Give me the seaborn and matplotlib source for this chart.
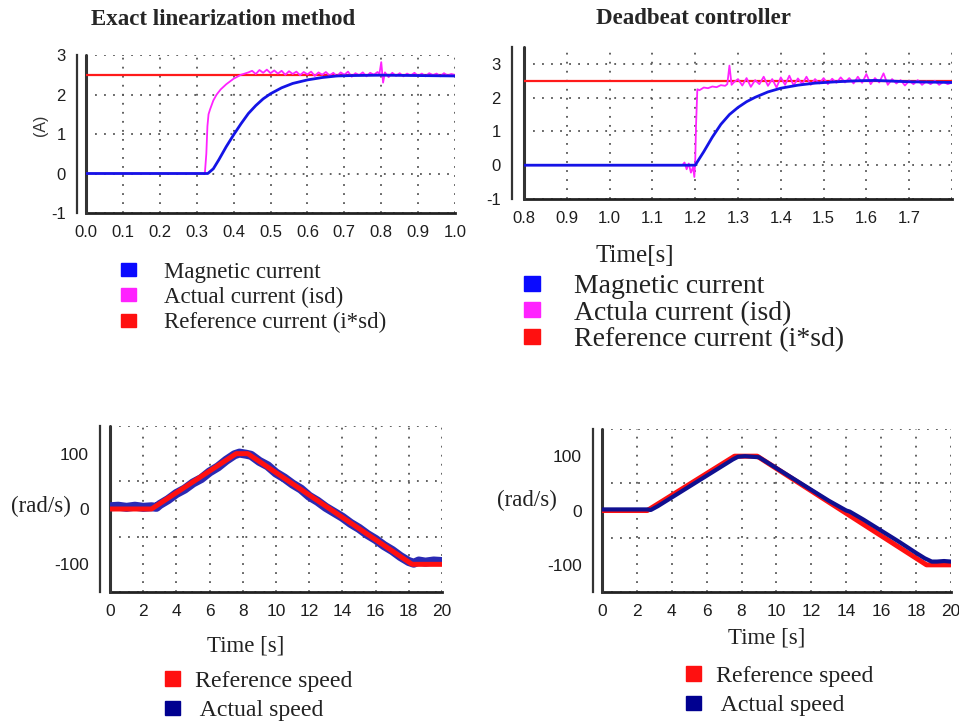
import numpy as np
import pandas as pd
import matplotlib
matplotlib.use("Agg")
from matplotlib import pyplot as plt
from matplotlib.patches import Patch
from matplotlib.ticker import MultipleLocator
import seaborn as sns

# ======================================================================
# Data
# ======================================================================
# --- top left: exact linearization, currents ---
tl_ref_t = [0.0, 1.0]
tl_ref_i = [2.5, 2.5]

tl_mag_t = [0.0, 0.33, 0.345, 0.36, 0.38, 0.40, 0.42, 0.44, 0.46, 0.48, 0.50,
            0.53, 0.56, 0.60, 0.64, 0.68, 0.72, 0.80, 0.90, 1.0]
tl_mag_i = [0.0, 0.0, 0.12, 0.35, 0.68, 0.98, 1.26, 1.52, 1.72, 1.89, 2.02,
            2.17, 2.28, 2.37, 2.43, 2.47, 2.48, 2.49, 2.48, 2.47]

tl_act_t = [0.0, 0.322, 0.326, 0.329, 0.332, 0.336, 0.345, 0.354, 0.365, 0.38,
            0.39, 0.40, 0.41, 0.42, 0.43, 0.44,
            0.45, 0.46, 0.47, 0.48, 0.49, 0.50, 0.51, 0.52, 0.53, 0.54,
            0.55, 0.56, 0.57, 0.58, 0.59, 0.60, 0.61, 0.62, 0.63, 0.64,
            0.65, 0.66, 0.67, 0.68, 0.69, 0.70, 0.71, 0.72, 0.73, 0.74,
            0.75, 0.76, 0.77, 0.78, 0.79, 0.795, 0.80, 0.805, 0.81, 0.82,
            0.83, 0.84, 0.85, 0.86, 0.87, 0.88, 0.89, 0.90, 0.91, 0.92,
            0.93, 0.94, 0.95, 0.96, 0.97, 0.98, 0.99, 1.00]
tl_act_i = [0.0, 0.0, 0.5, 1.2, 1.5, 1.62, 1.85, 2.0, 2.13, 2.26,
            2.33, 2.40, 2.45, 2.50, 2.53, 2.56,
            2.60, 2.52, 2.62, 2.55, 2.63, 2.54, 2.61, 2.53, 2.60, 2.50,
            2.59, 2.52, 2.58, 2.49, 2.57, 2.51, 2.58, 2.47, 2.56, 2.50,
            2.57, 2.48, 2.55, 2.46, 2.56, 2.50, 2.58, 2.45, 2.54, 2.49,
            2.56, 2.46, 2.55, 2.50, 2.57, 2.52, 2.82, 2.30, 2.56, 2.44,
            2.55, 2.47, 2.54, 2.46, 2.53, 2.48, 2.55, 2.47, 2.53, 2.46,
            2.54, 2.49, 2.53, 2.46, 2.54, 2.48, 2.52, 2.49]

# --- top right: deadbeat, currents ---
tr_ref_t = [0.8, 1.8]
tr_ref_i = [2.5, 2.5]

tr_mag_t = [0.8, 1.2, 1.21, 1.22, 1.24, 1.26, 1.28, 1.30, 1.32, 1.34, 1.37,
            1.40, 1.44, 1.48, 1.53, 1.58, 1.62, 1.66, 1.70, 1.75, 1.80]
tr_mag_i = [0.0, 0.0, 0.2, 0.40, 0.83, 1.21, 1.50, 1.71, 1.88, 2.01, 2.17,
            2.28, 2.37, 2.43, 2.47, 2.50, 2.51, 2.49, 2.47, 2.46, 2.45]

tr_act_t = [0.8, 1.17, 1.175, 1.18, 1.185, 1.19, 1.195, 1.198, 1.200, 1.202,
            1.205, 1.21, 1.22, 1.23, 1.24, 1.25, 1.26, 1.27, 1.275, 1.28,
            1.285, 1.29,
            1.30, 1.31, 1.32, 1.33, 1.34, 1.35, 1.36, 1.37, 1.38, 1.39,
            1.40, 1.41, 1.42, 1.43, 1.44, 1.45, 1.46, 1.47, 1.48, 1.49,
            1.50, 1.51, 1.52, 1.53, 1.54, 1.55, 1.56, 1.57, 1.58, 1.59,
            1.60, 1.61, 1.62, 1.63, 1.64, 1.65, 1.66, 1.67, 1.68, 1.69,
            1.70, 1.71, 1.72, 1.73, 1.74, 1.75, 1.76, 1.77, 1.78, 1.79, 1.80]
tr_act_i = [0.0, 0.0, 0.08, -0.12, 0.05, -0.22, -0.05, -0.35, 0.1, 1.2,
            2.25, 2.22, 2.30, 2.28, 2.33, 2.31, 2.37, 2.35, 2.40, 2.95,
            2.38, 2.45,
            2.55, 2.36, 2.58, 2.32, 2.52, 2.40, 2.62, 2.35, 2.55, 2.30,
            2.60, 2.38, 2.65, 2.36, 2.57, 2.40, 2.62, 2.38, 2.55, 2.42,
            2.58, 2.40, 2.56, 2.44, 2.60, 2.45, 2.58, 2.42, 2.62, 2.44,
            2.70, 2.40, 2.58, 2.45, 2.72, 2.38, 2.55, 2.42, 2.52, 2.36,
            2.50, 2.40, 2.52, 2.38, 2.48, 2.40, 2.50, 2.38, 2.47, 2.40, 2.45]

tr_xticks = [0.8, 0.9, 1.0, 1.1, 1.2, 1.3, 1.4, 1.5, 1.6, 1.7, 1.8]
tr_xticklabels = ["0.8", "0.9", "1.0", "1.1", "1.2", "1.3", "1.4", "1.5", "1.6", "1.7", ""]

# --- bottom left: exact linearization, speed ---
bl_ref_t = [0, 2.5, 7.6, 8.3, 18.2, 20]
bl_ref_w = [0, 0, 100, 100, -100, -100]
bl_act_t = [0, 0.5, 1.0, 1.5, 2.0, 2.5, 2.8, 3.0, 3.5, 4.0, 4.5, 5.0, 5.5, 6.0,
            6.5, 7.0, 7.5, 7.8, 8.2, 8.5, 9.0, 9.5, 10.0, 10.5, 11.0, 11.5,
            12.0, 12.5, 13.0, 13.5, 14.0, 14.5, 15.0, 15.5, 16.0, 16.5, 17.0,
            17.5, 18.0, 18.3, 18.6, 19.0, 19.5, 20.0]
bl_act_w = [4, 5, 3, 5, 3, 4, 3, 8, 17, 28, 36, 47, 55, 67,
            76, 88, 98, 101, 99, 97, 86, 78, 65, 56, 45, 36,
            23, 14, 3, -6, -15, -26, -35, -46, -55, -66, -75,
            -86, -95, -98, -94, -96, -94, -95]

# --- bottom right: deadbeat, speed ---
br_ref_t = [0, 2.6, 7.6, 8.9, 18.6, 20]
br_ref_w = [0, 0, 100, 100, -100, -100]
br_act_t = [0, 1.0, 2.0, 2.6, 2.8, 3.2, 4.0, 5.0, 6.0, 7.0, 7.5, 7.8, 8.2,
            8.6, 9.0, 9.5, 10.0, 11.0, 12.0, 13.0, 14.0, 14.2, 15.0, 16.0,
            17.0, 18.0, 18.5, 18.9, 19.2, 19.6, 20.0]
br_act_w = [2, 2, 2, 2, 1, 8, 24, 44, 64, 84, 94, 99, 100,
            99, 98, 88, 78, 58, 38, 18, 0, -2, -17, -37,
            -57, -78, -88, -94, -94, -93, -94]

# ======================================================================
# Figure
# ======================================================================
sns.set_style("white")
plt.rcParams["font.family"] = ["Liberation Sans", "DejaVu Sans"]
plt.rcParams["axes.unicode_minus"] = False
SERIF = ["Liberation Serif", "DejaVu Serif"]

fig = plt.figure(figsize=(9.59, 7.23), dpi=100)
ax_tl = fig.add_axes([0.0897, 0.7054, 0.3848, 0.2185])
ax_tr = fig.add_axes([0.5464, 0.7248, 0.4463, 0.2102])
ax_bl = fig.add_axes([0.1147, 0.1812, 0.3462, 0.2296])
ax_br = fig.add_axes([0.6277, 0.1812, 0.3639, 0.2254])

DOTS = (0, (1, 4))


def style_axes(ax, xlim, ylim, xmaj, xmin_, ymaj, ymin_, offset, tsize, ygrid):
    ax.set_xlim(xlim)
    ax.set_ylim(ylim)
    ax.spines["top"].set_visible(False)
    ax.spines["right"].set_visible(False)
    ax.spines["left"].set_position(("outward", offset))
    ax.spines["left"].set_color("#333333")
    ax.spines["left"].set_linewidth(1.6)
    ax.spines["bottom"].set_color("#222222")
    ax.spines["bottom"].set_linewidth(2.0)
    ax.axvline(xlim[0], color="#333333", lw=2.2, clip_on=False, zorder=3)
    ax.xaxis.set_major_locator(MultipleLocator(xmaj))
    ax.xaxis.set_minor_locator(MultipleLocator(xmin_))
    ax.yaxis.set_major_locator(MultipleLocator(ymaj))
    ax.yaxis.set_minor_locator(MultipleLocator(ymin_))
    ax.tick_params(axis="x", which="both", direction="inout", length=7,
                   width=1.5, colors="#222222", labelsize=tsize, pad=5)
    ax.tick_params(axis="y", which="both", direction="out", length=5,
                   width=1.3, colors="#333333", labelsize=tsize, pad=3)
    ax.tick_params(axis="y", which="minor", length=4)
    ax.tick_params(labelcolor="#1e1e1e")
    ax.grid(False)
    ax.xaxis.grid(True, which="major", ls=DOTS, color="#555555", lw=1.3)
    ax.yaxis.grid(True, which=ygrid, ls=DOTS, color="#555555", lw=1.3)
    ax.set_axisbelow(True)


def curve(ax, t, v, color, lw, z):
    sns.lineplot(x=t, y=v, ax=ax, color=color, lw=lw, estimator=None,
                 sort=False, zorder=z, legend=False)


# --- top left ---
curve(ax_tl, tl_ref_t, tl_ref_i, "#ff1a1a", 1.6, 4)
curve(ax_tl, tl_act_t, tl_act_i, "#ff22ff", 1.3, 5)
curve(ax_tl, tl_mag_t, tl_mag_i, "#1414e6", 2.0, 6)
style_axes(ax_tl, (0.0, 1.0), (-1, 3), 0.1, 0.05, 1, 0.5, 6.5, 12, "major")
ax_tl.xaxis.set_major_formatter(lambda v, p: f"{v:.1f}")
ax_tl.set_xlabel("")
ax_tl.set_ylabel("(A)", fontsize=11.5, color="#333333")
ax_tl.yaxis.set_label_coords(-0.103, 0.557)
ax_tl.set_title("Exact linearization method", family=SERIF, fontweight="bold",
                fontsize=16.5, x=0.371, y=1.14)

# --- top right ---
curve(ax_tr, tr_ref_t, tr_ref_i, "#ff1a1a", 1.6, 4)
curve(ax_tr, tr_act_t, tr_act_i, "#ff22ff", 1.3, 5)
curve(ax_tr, tr_mag_t, tr_mag_i, "#1414e6", 2.0, 6)
style_axes(ax_tr, (0.8, 1.8), (-1, 3.5), 0.1, 0.05, 1, 0.5, 8.6, 12, "major")
ax_tr.set_xticks(tr_xticks, labels=tr_xticklabels)
ax_tr.set_ylabel("")
ax_tr.set_xlabel("Time[s]", family=SERIF, fontsize=18, color="#222222")
ax_tr.xaxis.set_label_coords(0.259, -0.30)
ax_tr.set_title("Deadbeat controller", family=SERIF, fontweight="bold",
                fontsize=16.5, x=0.397, y=1.097)

# --- bottom left ---
curve(ax_bl, bl_act_t, bl_act_w, "#2a2ab4", 6.5, 4)
curve(ax_bl, bl_ref_t, bl_ref_w, "#ff1010", 3.6, 5)
style_axes(ax_bl, (0, 20), (-150, 150), 2, 1, 100, 50, 7.2, 12.5, "minor")
ax_bl.set_xlabel("Time [s]", family=SERIF, fontsize=16.5, color="#222222")
ax_bl.xaxis.set_label_coords(0.41, -0.26)
ax_bl.set_ylabel("(rad/s)", family=SERIF, fontsize=16.5, rotation=0,
                 color="#222222", va="center", ha="center")
ax_bl.yaxis.set_label_coords(-0.208, 0.518)

# --- bottom right ---
curve(ax_br, br_ref_t, br_ref_w, "#ff1010", 3.6, 4)
curve(ax_br, br_act_t, br_act_w, "#101090", 3.0, 5)
style_axes(ax_br, (0, 20), (-150, 150), 2, 1, 100, 50, 6.5, 12.5, "minor")
ax_br.set_xlabel("Time [s]", family=SERIF, fontsize=16.5, color="#222222")
ax_br.xaxis.set_label_coords(0.473, -0.215)
ax_br.set_ylabel("(rad/s)", family=SERIF, fontsize=16.5, rotation=0,
                 color="#222222", va="center", ha="center")
ax_br.yaxis.set_label_coords(-0.215, 0.564)

# ======================================================================
# Legends under each panel
# ======================================================================
cur_colors = ["#0a0aff", "#ff22ff", "#ff1010"]
spd_colors = ["#ff1010", "#000090"]
tl_labels = ["Magnetic current", "Actual current (isd)", "Reference current (i*sd)"]
tr_labels = ["Magnetic current", "Actula current (isd)", "Reference current (i*sd)"]
spd_labels = ["Reference speed", " Actual speed"]


def add_legend(labels, colors, anchor, fsize, hlen, hhei, pad, spacing):
    handles = [Patch(facecolor=c, edgecolor=c) for c in colors]
    fig.legend(handles, labels, loc="upper left", bbox_to_anchor=anchor,
               bbox_transform=fig.transFigure, frameon=False, borderpad=0,
               borderaxespad=0, handlelength=hlen, handleheight=hhei,
               handletextpad=pad, labelspacing=spacing,
               prop={"family": SERIF, "size": fsize}, labelcolor="#222222")


add_legend(tl_labels, cur_colors, (0.126, 0.638), 16.5, 0.65, 0.48, 1.22, 0.18)
add_legend(tr_labels, cur_colors, (0.546, 0.621), 20, 0.6, 0.45, 1.22, 0.06)
add_legend(spd_labels, spd_colors, (0.172, 0.072), 17.2, 0.63, 0.54, 0.63, 0.35)
add_legend(spd_labels, spd_colors, (0.715, 0.079), 17.2, 0.63, 0.54, 0.63, 0.35)

fig.savefig("out.png", dpi=100)
